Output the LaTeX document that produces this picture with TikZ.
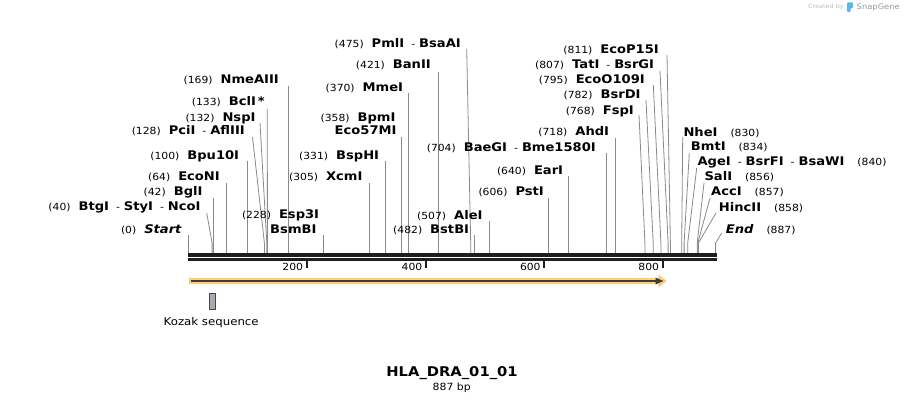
\documentclass[tikz,border=0pt]{standalone}
\usepackage{fontspec}
\newfontfamily\snapfont[FakeStretch=1.1]{DejaVu Sans}
\newcommand\numtxt[1]{{\snapfont\fontsize{9.8}{11}\selectfont #1}}
\newcommand\nametxt[1]{{\snapfont\bfseries\fontsize{11.9}{13}\selectfont #1}}
\newcommand\dsh{\numtxt{\hspace{7pt}-\hspace{4pt}}}
\newcommand\gp{\hspace{8pt}}
\newcommand\rgp{\hspace{13pt}}
\definecolor{cutgray}{HTML}{8A8A8A}
\definecolor{bbone}{HTML}{1E1E1E}
\definecolor{orfill}{HTML}{FFD47E}
\definecolor{ordraw}{HTML}{F7BE57}
\definecolor{ordark}{HTML}{3C3C3C}
\definecolor{kozfill}{HTML}{A5ACB4}
\newcommand\enzline[4]{%
  \coordinate (#1-t) at (#2,#3);
  \coordinate (#1-k) at (#4,243);
  \coordinate (#1-s) at (#4,253.3);
  \draw[cutline] (#1-t) -- (#1-k) -- (#1-s);}
\begin{document}
\begin{tikzpicture}[x=1pt,y=-1pt,
  cutline/.style={draw=cutgray,line width=0.8pt},
  lleft/.style={anchor=base east,inner sep=0pt},
  lright/.style={anchor=base west,inner sep=0pt},
  ticklab/.style={anchor=east,inner sep=0pt,font=\snapfont\fontsize{9.8}{11}\selectfont},
  tickmark/.style={line width=2pt,draw=bbone}]
\useasboundingbox (0,0) rectangle (905,404);
\fill[white] (0,0) rectangle (905,404);

% watermark
\node[anchor=east,inner sep=0pt,text=black!25,font=\snapfont\fontsize{5.9}{7}\selectfont] (cby) at (844,7) {Created by};
\fill[fill={rgb,255:red,92;green,182;blue,232},rounded corners=1pt] (847,2.5) -- (853,2.5) -- (853,8) -- (850.5,8) -- (850.5,12) -- (847,12) -- cycle;
\node[anchor=west,inner sep=0pt,text=black!40,font=\snapfont\fontsize{7.6}{9}\selectfont] (sg) at (856.5,7) {SnapGene};

% cut site lines
\enzline{e0}{188.3}{235}{188.3}
\enzline{e40}{206.7}{213}{212.1}
\enzline{e42}{213.3}{198}{213.3}
\enzline{e64}{226.3}{183}{226.3}
\enzline{e100}{247.8}{161}{247.8}
\enzline{e128}{252.5}{137}{264.4}
\enzline{e132}{260}{123}{266.8}
\enzline{e133}{267.3}{109}{267.4}
\enzline{e169}{288.8}{86}{288.8}
\enzline{e228}{323.8}{235}{323.8}
\enzline{e305}{369.6}{183}{369.6}
\enzline{e331}{385.1}{161}{385.1}
\enzline{e358}{401.1}{137}{401.1}
\enzline{e370}{408.3}{93}{408.3}
\enzline{e421}{438.6}{72}{438.6}
\enzline{e475}{466.7}{49}{470.7}
\enzline{e482}{474.8}{235}{474.8}
\enzline{e507}{489.7}{221}{489.7}
\enzline{e606}{548.6}{198}{548.6}
\enzline{e640}{568.8}{176}{568.8}
\enzline{e704}{606.8}{153}{606.8}
\enzline{e718}{615.2}{138}{615.2}
\enzline{e768}{639}{115}{644.9}
\enzline{e782}{646}{100}{653.2}
\enzline{e795}{653.3}{85}{660.9}
\enzline{e807}{660}{71}{668.1}
\enzline{e811}{667}{55}{670.4}
\enzline{e830}{682.7}{137}{681.7}
\enzline{e834}{689.3}{153}{684.1}
\enzline{e840}{696.7}{168}{687.7}
\enzline{e856}{704}{183}{697.2}
\enzline{e857}{710}{198}{697.8}
\enzline{e858}{716}{213}{698.4}
\enzline{e887}{721.7}{233}{715.6}

% labels, left side
\node[lleft] (l0) at (181.7,233) {\numtxt{(0)}\gp\nametxt{\itshape Start}};
\node[lleft] (l40) at (200.7,210.7) {\numtxt{(40)}\gp\nametxt{BtgI}\dsh\nametxt{StyI}\dsh\nametxt{NcoI}};
\node[lleft] (l42) at (202.7,195.7) {\numtxt{(42)}\gp\nametxt{BglI}};
\node[lleft] (l64) at (220,180.7) {\numtxt{(64)}\gp\nametxt{EcoNI}};
\node[lleft] (l100) at (239.3,159) {\numtxt{(100)}\gp\nametxt{Bpu10I}};
\node[lleft] (l128) at (245,134.7) {\numtxt{(128)}\gp\nametxt{PciI}\dsh\nametxt{AflIII}};
\node[lleft] (l132) at (255.7,121.3) {\numtxt{(132)}\gp\nametxt{NspI}};
\node[lleft] (l133) at (265,105.7) {\numtxt{(133)}\gp\nametxt{BclI\,*}};
\node[lleft] (l169) at (279,84) {\numtxt{(169)}\gp\nametxt{NmeAIII}};
\node[lleft] (l228a) at (319.3,218) {\numtxt{(228)}\gp\nametxt{Esp3I}};
\node[lleft] (l228b) at (316.7,233) {\nametxt{BsmBI}};
\node[lleft] (l305) at (362.7,180.7) {\numtxt{(305)}\gp\nametxt{XcmI}};
\node[lleft] (l331) at (379.3,159) {\numtxt{(331)}\gp\nametxt{BspHI}};
\node[lleft] (l358a) at (395.7,121.3) {\numtxt{(358)}\gp\nametxt{BpmI}};
\node[lleft] (l358b) at (396.7,134.7) {\nametxt{Eco57MI}};
\node[lleft] (l370) at (403.3,91.3) {\numtxt{(370)}\gp\nametxt{MmeI}};
\node[lleft] (l421) at (431,68.3) {\numtxt{(421)}\gp\nametxt{BanII}};
\node[lleft] (l475) at (461,47.3) {\numtxt{(475)}\gp\nametxt{PmlI}\dsh\nametxt{BsaAI}};
\node[lleft] (l482) at (469.3,233.3) {\numtxt{(482)}\gp\nametxt{BstBI}};
\node[lleft] (l507) at (482.7,219) {\numtxt{(507)}\gp\nametxt{AleI}};
\node[lleft] (l606) at (544,195.7) {\numtxt{(606)}\gp\nametxt{PstI}};
\node[lleft] (l640) at (563.3,174) {\numtxt{(640)}\gp\nametxt{EarI}};
\node[lleft] (l704) at (596,151.3) {\numtxt{(704)}\gp\nametxt{BaeGI}\dsh\nametxt{Bme1580I}};
\node[lleft] (l718) at (609.3,135.7) {\numtxt{(718)}\gp\nametxt{AhdI}};
\node[lleft] (l768) at (634,114) {\numtxt{(768)}\gp\nametxt{FspI}};
\node[lleft] (l782) at (640.7,99) {\numtxt{(782)}\gp\nametxt{BsrDI}};
\node[lleft] (l795) at (645,84) {\numtxt{(795)}\gp\nametxt{EcoO109I}};
\node[lleft] (l807) at (654.3,69) {\numtxt{(807)}\gp\nametxt{TatI}\dsh\nametxt{BsrGI}};
\node[lleft] (l811) at (659,54) {\numtxt{(811)}\gp\nametxt{EcoP15I}};

% labels, right side
\node[lright] (l830) at (683.3,136.3) {\nametxt{NheI}\rgp\numtxt{(830)}};
\node[lright] (l834) at (690.7,150.7) {\nametxt{BmtI}\rgp\numtxt{(834)}};
\node[lright] (l840) at (697.3,165.7) {\nametxt{AgeI}\dsh\nametxt{BsrFI}\dsh\nametxt{BsaWI}\rgp\numtxt{(840)}};
\node[lright] (l856) at (704.3,180.7) {\nametxt{SalI}\rgp\numtxt{(856)}};
\node[lright] (l857) at (711,195) {\nametxt{AccI}\rgp\numtxt{(857)}};
\node[lright] (l858) at (718.7,211.3) {\nametxt{HincII}\rgp\numtxt{(858)}};
\node[lright] (l887) at (725.7,233.3) {\nametxt{\itshape End}\rgp\numtxt{(887)}};

% backbone
\coordinate (bbL1) at (188.3,255);
\coordinate (bbR1) at (716.7,255);
\coordinate (bbL2) at (188.3,259.5);
\coordinate (bbR2) at (716.7,259.5);
\draw[bbone,line width=3.3pt] (bbL1) -- (bbR1);
\draw[bbone,line width=2.4pt] (bbL2) -- (bbR2);

% ticks
\foreach \tx/\tl in {306.7/200,426/400,544.3/600,662.7/800}{
  \draw[tickmark] (\tx,261) -- (\tx,267.5);
  \node[ticklab] (tk\tl) at (\tx-3.5,266.7) {\tl};
}

% ORF arrow
\fill[orfill,draw=ordraw,line width=0.6pt] (189.3,278.3) -- (659,278.3) -- (659,275.6) -- (666,281) -- (659,286.4) -- (659,283.7) -- (189.3,283.7) -- cycle;
\draw[ordark,line width=1.7pt] (190.5,281) -- (657,281);
\fill[ordark] (655.5,277.6) -- (663.5,281) -- (655.5,284.4) -- cycle;

% Kozak
\node[draw={rgb,255:red,70;green,70;blue,70},fill=kozfill,line width=0.7pt,minimum width=5.7pt,minimum height=15.7pt,inner sep=0pt] (koz) at (212.2,301.2) {};
\node[inner sep=0pt,font=\snapfont\fontsize{10.7}{12}\selectfont] (kozl) at (211.2,322.7) {Kozak sequence};

% title
\node[inner sep=0pt,font=\snapfont\bfseries\fontsize{13.4}{15}\selectfont] (title) at (452,372.7) {HLA\_DRA\_01\_01};
\node[inner sep=0pt,font=\snapfont\fontsize{9.9}{11}\selectfont] (bp) at (451.7,387.7) {887 bp};
\end{tikzpicture}
\end{document}
